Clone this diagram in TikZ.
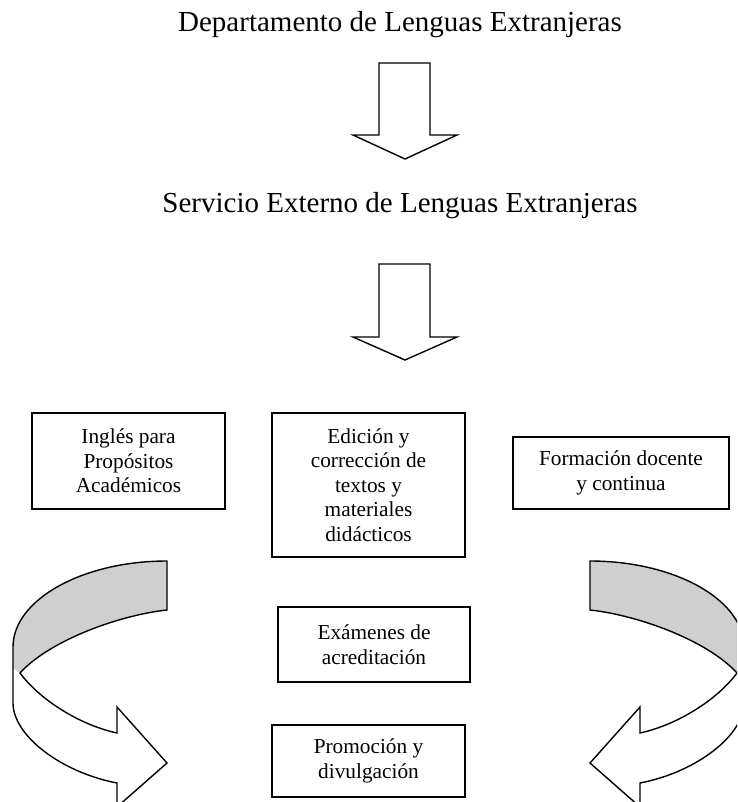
\documentclass[tikz,border=0pt]{standalone}
\usepackage{fontspec}
\setmainfont{Liberation Serif}
\begin{document}
\begin{tikzpicture}[x=1pt,y=-1pt,
  line join=miter,
  title/.style={anchor=base,inner sep=0pt,font=\fontsize{29}{33}\selectfont},
  boxnode/.style={draw=black,line width=1.6pt,align=center,inner sep=0pt,
    font=\fontsize{21.3}{24.5}\selectfont},
  blockarrow/.style={draw=black,line width=1.4pt,fill=white},
  curveline/.style={draw=black,line width=1.4pt},
  band/.style={fill=black!19}]
\useasboundingbox (0,0) rectangle (737,802);
\clip (0,0) rectangle (737,802);

% titles
\node[title] (dep) at (400,32) {Departamento de Lenguas Extranjeras};
\node[title] (sel) at (400,212) {Servicio Externo de Lenguas Extranjeras};

% block arrows down
\draw[blockarrow] (379,63) -- (430,63) -- (430,135) -- (457,135) -- (405,159)
  -- (353,135) -- (379,135) -- cycle;
\draw[blockarrow] (379,264) -- (430,264) -- (430,337) -- (457,337) -- (405,360)
  -- (353,337) -- (379,337) -- cycle;

% boxes
\node[boxnode,minimum width=193pt,minimum height=96pt] (ing) at (128.5,461)
  {Inglés para\\Propósitos\\Académicos};
\node[boxnode,minimum width=193pt,minimum height=144pt] (edi) at (368.5,485)
  {Edición y\\corrección de\\textos y\\materiales\\didácticos};
\node[boxnode,minimum width=216pt,minimum height=72pt] (for) at (621,473)
  {Formación docente\\y continua};
\node[boxnode,minimum width=192pt,minimum height=75pt] (exa) at (374,644.5)
  {Exámenes de\\acreditación};
\node[boxnode,minimum width=193pt,minimum height=72pt] (pro) at (368.5,761)
  {Promoción y\\divulgación};

% curved arrows (left, then mirrored right)
\foreach \sx/\dx in {1/0,-1/757}{
\begin{scope}[xshift=\dx pt,xscale=\sx]
  \fill[band] (167,561) .. controls (82,561) and (13,600) .. (13,647)
    -- (13,668) -- (20,673)
    .. controls (50,640) and (120,615) .. (167,610) -- cycle;
  \draw[curveline] (167,610) -- (167,561)
    .. controls (82,561) and (13,600) .. (13,647)
    -- (13,703)
    .. controls (13,735) and (60,772) .. (117,783)
    -- (117,807) -- (167,763) -- (117,707) -- (117,733)
    .. controls (80,725) and (40,700) .. (20,673)
    .. controls (50,640) and (120,615) .. (167,610) -- cycle;
\end{scope}
}
\end{tikzpicture}
\end{document}
